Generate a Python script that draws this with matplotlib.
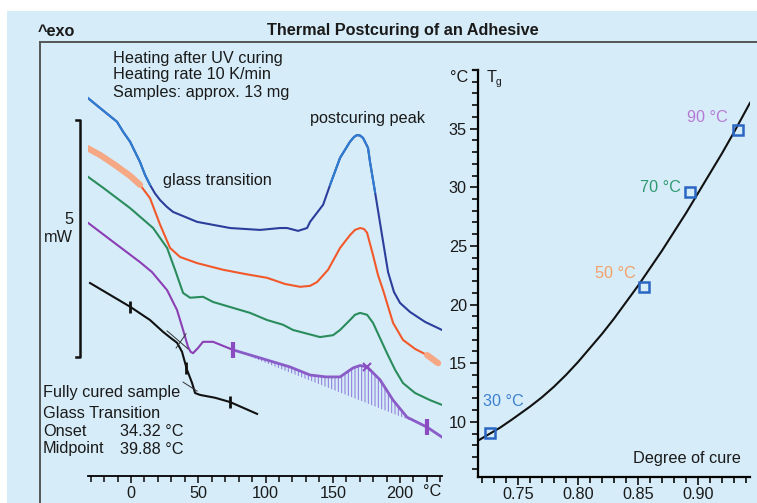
import numpy as np
import matplotlib.pyplot as plt
from matplotlib.lines import Line2D
from matplotlib.patches import Rectangle

plt.rcParams['font.family'] = ['Liberation Sans', 'DejaVu Sans']
plt.rcParams['hatch.linewidth'] = 0.7

W, H = 757, 503
BG = '#d6ecf8'

# DSC curves: temperature (°C) and heat flow (mW, exo up, offset per curve)
temp_blue = [-32.0, -23.0, -10.4, -5.9, -0.7, 6.7, 10.4, 14.1, 17.8, 21.6, 26.5, 31.2, 49.1,
             73.6, 95.9, 110.8, 116.0, 124.2, 130.9, 133.1, 142.8, 148.0, 155.4, 162.8, 165.8,
             168.0, 170.3, 172.5, 176.2, 177.7, 181.4, 186.6, 191.1, 195.5, 200.0, 207.4,
             218.6, 231.2]
hf_blue = [7.97, 7.76, 7.47, 7.26, 7.05, 6.62, 6.35, 6.14, 5.96, 5.82, 5.68, 5.57, 5.36,
           5.23, 5.19, 5.23, 5.23, 5.17, 5.23, 5.36, 5.72, 6.14, 6.71, 7.05, 7.15,
           7.19, 7.18, 7.13, 6.92, 6.62, 5.99, 5.08, 4.30, 3.88, 3.65, 3.46,
           3.25, 3.08]

temp_orange = [-32.7, -23.0, -11.9, -0.7, 6.7, 14.1, 21.6, 29.0, 36.4, 49.1, 68.4, 84.8, 101.1,
               114.5, 125.7, 133.1, 138.3, 146.5, 155.4, 162.8, 166.5, 170.3, 173.2, 175.5,
               179.9, 183.6, 187.4, 194.8, 202.2, 211.2, 220.1, 228.3]
hf_orange = [6.92, 6.77, 6.56, 6.33, 6.14, 5.86, 5.30, 4.81, 4.62, 4.49, 4.35, 4.26, 4.18,
             4.05, 3.99, 4.01, 4.09, 4.35, 4.81, 5.08, 5.19, 5.23, 5.21, 5.13,
             4.66, 4.24, 3.92, 3.23, 2.87, 2.68, 2.55, 2.38]

temp_green = [-32.0, -20.8, -0.7, 16.4, 26.8, 32.7, 38.7, 43.9, 53.5, 61.0, 88.5, 101.1, 113.0,
              120.4, 140.5, 150.2, 155.4, 162.8, 166.5, 170.3, 175.5, 179.9, 190.3, 196.3,
              202.2, 211.2, 222.3, 231.2]
hf_green = [6.31, 6.08, 5.65, 5.23, 4.81, 4.35, 3.86, 3.76, 3.78, 3.67, 3.44, 3.29, 3.19,
            3.08, 2.93, 2.97, 3.08, 3.29, 3.40, 3.44, 3.40, 3.23, 2.59, 2.24,
            1.96, 1.75, 1.60, 1.50]

temp_purple = [-32.0, -13.4, 6.7, 15.6, 26.8, 34.2, 38.7, 42.4, 44.3, 46.1, 49.8, 53.5, 61.0,
               75.8, 95.9, 118.2, 133.1, 145.0, 155.4, 165.1, 170.3, 175.5, 185.1, 194.8,
               205.2, 220.1, 231.2]
hf_purple = [5.34, 4.94, 4.51, 4.30, 3.92, 3.50, 3.08, 2.72, 2.62, 2.59, 2.70, 2.83, 2.83,
             2.66, 2.49, 2.30, 2.13, 2.09, 2.09, 2.28, 2.33, 2.30, 2.03, 1.60,
             1.24, 1.03, 0.82]

temp_black = [-30.5, -15.6, -0.7, 14.1, 23.8, 30.0, 34.2, 37.9, 41.6, 45.4, 47.6, 51.3, 62.5,
              73.6, 93.7]
hf_black = [4.07, 3.82, 3.57, 3.29, 3.04, 2.90, 2.81, 2.62, 2.24, 1.96, 1.75, 1.71, 1.65,
            1.56, 1.31]

# evaluation marks
black_ticks_t = [-0.7, 40.9, 73.6]
black_ticks_hf = [3.57, 2.28, 1.56]
tangent_a_t, tangent_a_hf = [26.8, 42.4], [3.06, 2.68]
tangent_b_t, tangent_b_hf = [33.5, 40.9], [2.70, 3.00]
tangent_c_t, tangent_c_hf = [38.7, 49.1], [1.98, 1.79]
purple_limits_t = [75.8, 220.1]
purple_limits_hf = [2.66, 1.03]
purple_peak_t, purple_peak_hf = [175.5], [2.30]

# Tg vs degree of cure
cure_pts = [0.7267, 0.855, 0.893, 0.933]
tg_pts = [9.06, 21.5, 29.6, 34.9]
pt_labels = ['30 °C', '50 °C', '70 °C', '90 °C']
pt_colors = ['#3d80d0', '#f5a06a', '#2f9a72', '#b57ad6']
cure_fit = [0.7167, 0.725, 0.735, 0.745, 0.76, 0.77, 0.78, 0.79, 0.80, 0.81, 0.82, 0.83,
            0.84, 0.85, 0.86, 0.87, 0.88, 0.89, 0.90, 0.91, 0.92, 0.93, 0.9433]
tg_fit = [8.4, 8.9, 9.5, 10.2, 11.3, 12.1, 13.0, 14.0, 15.1, 16.3, 17.5, 18.8,
          20.2, 21.6, 23.1, 24.6, 26.2, 27.8, 29.5, 31.2, 32.9, 34.7, 37.2]

temp_ticks = [0, 50, 100, 150, 200]
cure_ticks = [0.75, 0.80, 0.85, 0.90]
tg_ticks = [10, 15, 20, 25, 30, 35]


def fx(x):
    return x / W


def fy(y):
    return 1 - y / H


def ptext(x, y, s, **kw):
    kw.setdefault('fontsize', 11.7)
    kw.setdefault('color', '#1a1a1a')
    kw.setdefault('va', 'center')
    fig.text(fx(x), fy(y), s, **kw)


fig = plt.figure(figsize=(W / 100, H / 100), dpi=100)
fig.patch.set_facecolor('white')
fig.add_artist(Rectangle((fx(7), 0), 1, fy(11), transform=fig.transFigure,
                         facecolor=BG, edgecolor='none', zorder=-10))
fig.add_artist(Line2D([fx(40), 1], [fy(42), fy(42)], color='#555555', lw=1.4))
fig.add_artist(Line2D([fx(40), fx(40)], [fy(42), 0], color='#555555', lw=1.4))

ptext(38, 31, '^exo', fontweight='bold')
ptext(403, 31, 'Thermal Postcuring of an Adhesive', fontweight='bold', ha='center')

# ---- left panel: DSC curves
ax1 = fig.add_axes([fx(88), fy(476), fx(442) - fx(88), fy(45) - fy(476)])
ax1.set_facecolor('none')
ax1.set_xlim(-32, 231.2)
ax1.set_ylim(0, 9.09)
for s in ['left', 'top', 'right']:
    ax1.spines[s].set_visible(False)
ax1.spines['bottom'].set_linewidth(1.3)
ax1.set_yticks([])
ax1.set_xticks(temp_ticks)
ax1.set_xticks(np.arange(-30, 231, 10), minor=True)
ax1.tick_params(axis='x', which='both', direction='out', width=1.2, labelsize=11.7,
                colors='#1a1a1a', pad=2)
ax1.tick_params(axis='x', which='major', length=5)
ax1.tick_params(axis='x', which='minor', length=4)

ax1.plot(temp_blue, hf_blue, color='#2c3e9c', lw=1.5)
ax1.plot(temp_blue[:8], hf_blue[:8], color='#2f7dd1', lw=1.5)
ax1.plot(temp_blue[21:31], hf_blue[21:31], color='#2f7dd1', lw=1.5)

ax1.plot(temp_orange, hf_orange, color='#f2592a', lw=1.5)
ax1.plot(temp_orange[:5], hf_orange[:5], color='#f6a884', lw=4.5, solid_capstyle='round')
ax1.plot(temp_orange[30:], hf_orange[30:], color='#f6a884', lw=4.5, solid_capstyle='round')

ax1.plot(temp_green, hf_green, color='#2a8c5c', lw=1.5)

ax1.plot(temp_purple[:14], hf_purple[:14], color='#8b3fb5', lw=1.5)
ax1.plot(temp_purple[13:], hf_purple[13:], color='#8a5cc8', lw=2.0)
ax1.fill(temp_purple[13:26], hf_purple[13:26], facecolor='none', edgecolor='#8a74d8',
         hatch='|||||', linewidth=0)
ax1.plot(purple_limits_t, purple_limits_hf, ls='none', marker='|', ms=12, mew=3,
         color='#8a4cc0')
ax1.plot(purple_peak_t, purple_peak_hf, ls='none', marker='x', ms=6, mew=1.5, color='#8a4cc0')

ax1.plot(temp_black, hf_black, color='#111111', lw=1.5)
ax1.plot(black_ticks_t, black_ticks_hf, ls='none', marker='|', ms=8, mew=2, color='#111111')
for tt, hh in [(tangent_a_t, tangent_a_hf), (tangent_b_t, tangent_b_hf),
               (tangent_c_t, tangent_c_hf)]:
    ax1.plot(tt, hh, color='#333333', lw=0.7)

# 5 mW scale bar
ax1.plot([-41, -37.9, -37.9, -41], [7.5, 7.5, 2.5, 2.5], color='#111111', lw=1.8,
         clip_on=False)
ptext(73, 220, '5', ha='right')
ptext(73, 237, 'mW', ha='right')
ptext(432, 491, '°C', ha='center')

ptext(113, 58, 'Heating after UV curing')
ptext(113, 75, 'Heating rate 10 K/min')
ptext(113, 93, 'Samples: approx. 13 mg')
ptext(310, 118, 'postcuring peak')
ptext(163, 181, 'glass transition')
ptext(43, 392, 'Fully cured sample')
ptext(43, 413, 'Glass Transition')
ptext(43, 432, 'Onset')
ptext(120, 432, '34.32 °C')
ptext(43, 449, 'Midpoint')
ptext(120, 449, '39.88 °C')

# ---- right panel: Tg vs degree of cure
ax2 = fig.add_axes([fx(478), fy(477), fx(750) - fx(478), fy(70) - fy(477)])
ax2.set_facecolor('none')
ax2.set_xlim(0.7167, 0.9433)
ax2.set_ylim(5.3, 40.0)
ax2.spines['top'].set_visible(False)
ax2.spines['right'].set_visible(False)
for s in ['left', 'bottom']:
    ax2.spines[s].set_linewidth(1.6)
ax2.set_xticks(cure_ticks)
ax2.set_xticklabels([f'{v:.2f}' for v in cure_ticks])
ax2.set_xticks(np.arange(0.72, 0.945, 0.01), minor=True)
ax2.set_yticks(tg_ticks)
ax2.set_yticks(np.arange(6, 41, 1), minor=True)
ax2.tick_params(which='both', direction='out', width=1.3, labelsize=11.7, colors='#1a1a1a')
ax2.tick_params(which='major', length=6)
ax2.tick_params(which='minor', length=4)
ax2.tick_params(axis='x', pad=1)
ax2.tick_params(axis='y', pad=2)

ax2.plot(cure_fit, tg_fit, color='#111111', lw=1.5)
ax2.plot(cure_pts, tg_pts, ls='none', marker='s', ms=6.5, mfc='none', mec='#2a66c4', mew=1.8)

fig.add_artist(Line2D([fx(473), fx(478)], [fy(70), fy(70)], color='#111111', lw=1.6))
ptext(468, 77, '°C', ha='right')
ptext(487, 77, 'T')
ptext(496, 82, 'g', fontsize=7.5)
ptext(633, 458, 'Degree of cure')

label_pos = [(483, 402), (595, 273), (640, 187), (687, 118)]
for (lx, ly), lab, col in zip(label_pos, pt_labels, pt_colors):
    ptext(lx, ly, lab, color=col)

fig.savefig('out.png', dpi=100, facecolor=fig.get_facecolor())
